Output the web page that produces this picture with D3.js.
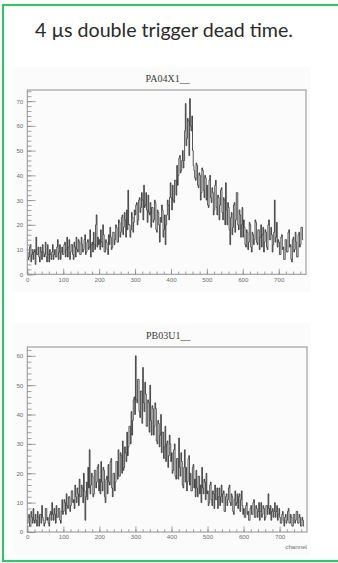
<!DOCTYPE html>
<html><head><meta charset="utf-8">
<script src="https://cdn.jsdelivr.net/npm/d3@7"></script>
<style>body{margin:0;background:#fff}svg{display:block}</style>
</head><body>
<svg id="c" width="338" height="563"></svg>
<script>
// ---------- data ----------
const binWidth = 2;             // channels per bin
const channelMax = 776;         // x-axis upper edge
const mainTitle = "4 µs double trigger dead time.";
const histTitles = ["PA04X1__", "PB03U1__"];
const xAxisLabel = "channel";
const xTicks = [0, 100, 200, 300, 400, 500, 600, 700];
const yTicksPA = [0, 10, 20, 30, 40, 50, 60, 70];
const yTicksPB = [0, 10, 20, 30, 40, 50, 60];
const yMaxPA = 74.5;
const yMaxPB = 63;

const countsPA04X1 = [
  9,6,7,11,12,5,8,10,6,9,10,4,15,8,8,11,7,5,11,9,6,12,9,7,8,13,7,5,12,8,5,10,8,6,9,12,6,8,10,7,7,11,14,6,9,12,6,9,11,8,
  8,12,13,7,10,15,7,11,14,6,9,12,12,8,6,13,11,7,15,10,9,14,13,8,8,15,12,9,10,14,16,8,9,13,14,10,11,18,7,12,13,9,17,12,10,20,24,11,15,12,
  14,10,18,13,11,20,16,9,9,14,13,10,8,16,12,19,15,10,11,17,17,12,14,20,19,13,13,22,21,15,17,23,24,16,19,25,22,15,26,18,34,20,20,15,18,25,23,17,21,26,
  24,28,29,20,22,30,31,25,27,33,30,22,36,27,28,33,26,21,32,25,24,29,19,27,27,21,22,30,29,18,17,26,25,20,13,23,21,28,26,15,18,24,12,20,24,30,28,22,31,37,
  31,26,36,30,29,38,38,32,44,36,40,47,48,41,42,46,50,43,46,58,69,52,55,63,62,48,71,60,58,64,50,44,42,39,38,45,44,36,35,41,40,30,33,43,42,34,31,40,39,30,
  36,28,27,38,40,31,29,35,33,24,26,36,38,27,24,32,31,22,28,34,35,25,22,31,30,20,37,26,20,29,27,18,12,23,25,16,19,28,29,17,22,33,33,20,18,26,24,15,20,27,
  15,22,19,12,11,18,17,10,13,21,20,11,9,17,16,12,14,22,21,13,12,18,18,10,15,20,11,16,19,9,13,18,17,11,10,20,22,14,14,19,16,9,12,17,30,13,15,21,11,14,
  13,8,8,15,16,10,11,6,6,14,14,9,9,17,18,11,12,6,5,14,15,9,10,17,13,7,7,16,17,11,12,19,19,14
];
const countsPB03U1 = [
  3,5,6,2,2,7,5,3,8,4,3,6,4,2,7,5,2,6,6,3,9,5,4,2,3,8,8,4,5,3,2,6,7,4,10,6,4,8,6,3,9,5,5,8,8,4,3,7,11,6,
  7,11,10,6,13,9,8,12,12,7,9,14,14,10,11,8,16,12,10,15,13,9,18,12,12,16,15,10,20,14,4,12,17,11,22,15,28,13,16,20,19,12,13,21,21,15,17,22,23,14,
  18,13,24,17,14,22,21,12,10,18,19,13,23,17,16,24,25,15,12,20,20,14,17,24,24,18,28,19,19,27,26,20,31,21,22,29,27,24,34,26,29,36,36,30,41,33,38,45,46,40,
  60,45,44,52,52,41,39,48,48,37,56,44,41,51,47,36,36,45,44,34,50,38,33,43,42,33,36,44,42,31,30,38,37,29,33,40,27,34,34,25,29,36,24,30,31,22,26,33,30,24,
  27,20,21,28,30,19,18,25,25,18,32,22,19,27,24,16,15,22,28,17,22,14,17,25,26,16,20,14,14,22,23,15,18,12,21,15,12,19,19,13,16,10,22,15,13,18,17,11,20,13,
  14,9,10,16,17,11,9,14,13,8,16,11,11,15,8,12,15,9,12,16,10,13,14,7,7,12,13,9,11,15,16,10,9,13,12,7,6,11,14,9,10,13,8,12,13,7,11,14,9,6,
  8,5,5,9,10,6,7,4,4,8,9,6,6,10,11,5,5,9,8,5,7,10,4,7,10,5,6,9,8,4,5,9,9,6,13,8,6,9,4,7,8,5,7,10,5,7,9,4,6,8,
  5,3,3,6,7,4,2,5,6,3,4,7,8,3,3,6,5,2,2,6,6,3,4,7,7,3,3,6,5,2,2,5,4,2
];

// ---------- drawing ----------
const svg = d3.select("#c");

// green slide border
svg.append("rect").attr("x", 3).attr("y", 5).attr("width", 345).attr("height", 556)
  .attr("fill", "none").attr("stroke", "#3cc06b").attr("stroke-width", 2.2);

// main title
const t = svg.append("text").attr("x", 35).attr("y", 37)
  .attr("font-family", "Lato, 'Open Sans', sans-serif").attr("font-size", 17)
  .attr("fill", "#2a2a2a").text(mainTitle);
const w = t.node().getComputedTextLength();
t.attr("font-size", 17 * 258 / w);

function panel(cfg) {
  const g = svg.append("g");
  // pad background
  g.append("rect").attr("x", cfg.padX).attr("y", cfg.padY).attr("width", cfg.padW).attr("height", cfg.padH)
    .attr("fill", "#fbfbfb");
  const x = d3.scaleLinear().domain([0, channelMax]).range([cfg.left, cfg.right]);
  const y = d3.scaleLinear().domain([0, cfg.yMax]).range([cfg.bottom, cfg.top]);
  const fh = cfg.bottom - cfg.top, fw = cfg.right - cfg.left;

  // histogram step line
  const pts = cfg.counts.map((v, i) => [i * binWidth, v]);
  pts.push([cfg.counts.length * binWidth, cfg.counts[cfg.counts.length - 1]]);
  const line = d3.line().x(d => x(d[0])).y(d => y(d[1])).curve(d3.curveStepAfter);
  g.append("path").attr("d", line(pts)).attr("fill", "none")
    .attr("stroke", "#1e1e1e").attr("stroke-width", 0.75);

  // frame
  g.append("rect").attr("x", cfg.left).attr("y", cfg.top).attr("width", fw).attr("height", fh)
    .attr("fill", "none").attr("stroke", "#9a9a9a").attr("stroke-width", 1.1);

  // x axis ticks (inward)
  const xMajLen = 0.03 * fh, yMajLen = 0.03 * fw;
  const xMinor = d3.range(0, channelMax + 1, 20);
  const gx = g.append("g").attr("transform", `translate(0,${cfg.bottom})`);
  gx.call(d3.axisBottom(x).tickValues(xMinor).tickSize(-xMajLen / 2).tickFormat(""))
    .call(s => s.select(".domain").remove());
  gx.append("g").call(d3.axisBottom(x).tickValues(xTicks).tickSize(-xMajLen).tickPadding(0).tickFormat(d3.format("d")))
    .call(s => s.select(".domain").remove());
  gx.selectAll("line").attr("stroke", "#8a8a8a").attr("stroke-width", 0.8);
  gx.selectAll("text").attr("y", 3).attr("dy", "0.71em")
    .attr("font-family", "'Liberation Sans', Arial, sans-serif").attr("font-size", 6.2).attr("fill", "#707070");

  // y axis ticks (inward)
  const yMinor = d3.range(0, cfg.yMax, 2);
  const gy = g.append("g").attr("transform", `translate(${cfg.left},0)`);
  gy.call(d3.axisLeft(y).tickValues(yMinor).tickSize(-yMajLen / 2).tickFormat(""))
    .call(s => s.select(".domain").remove());
  gy.append("g").call(d3.axisLeft(y).tickValues(cfg.yTicks).tickSize(-yMajLen).tickFormat(d3.format("d")))
    .call(s => s.select(".domain").remove());
  gy.selectAll("line").attr("stroke", "#8a8a8a").attr("stroke-width", 0.8);
  gy.selectAll("text").attr("x", -4)
    .attr("font-family", "'Liberation Sans', Arial, sans-serif").attr("font-size", 6.2).attr("fill", "#707070");

  // histogram title
  g.append("text").attr("x", (cfg.left + cfg.right) / 2 + 1).attr("y", cfg.top - 8)
    .attr("text-anchor", "middle").attr("font-family", "'Liberation Serif', 'Times New Roman', serif")
    .attr("font-size", 10).attr("fill", "#3a3a3a").text(cfg.title);

  if (cfg.xlabel) {
    g.append("text").attr("x", cfg.right).attr("y", cfg.bottom + 17)
      .attr("text-anchor", "end").attr("font-family", "'Liberation Sans', Arial, sans-serif")
      .attr("font-size", 6.2).attr("fill", "#707070").text(cfg.xlabel);
  }
}

panel({padX: 13, padY: 67, padW: 297, padH: 225, left: 27.3, right: 306, top: 90, bottom: 274.3,
  yMax: yMaxPA, yTicks: yTicksPA, counts: countsPA04X1, title: histTitles[0]});
panel({padX: 13, padY: 323, padW: 297, padH: 232, left: 27.3, right: 307, top: 347, bottom: 532,
  yMax: yMaxPB, yTicks: yTicksPB, counts: countsPB03U1, title: histTitles[1], xlabel: xAxisLabel});
</script>
</body></html>
